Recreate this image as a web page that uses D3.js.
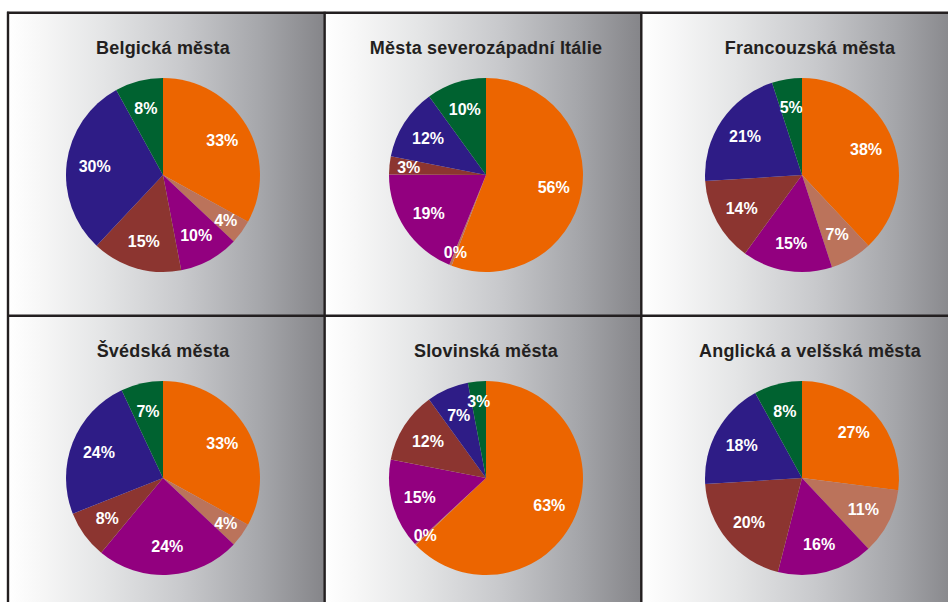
<!DOCTYPE html>
<html lang="cs">
<head>
<meta charset="utf-8">
<script src="https://cdn.jsdelivr.net/npm/d3@7"></script>
<style>
  html, body { margin: 0; padding: 0; background: #ffffff; }
  svg { display: block; }
</style>
</head>
<body>
<svg id="chart" width="948" height="602"></svg>
<script>
// Panel titles, in reading order (left to right, top to bottom)
const titles = [
  "Belgická města",
  "Města severozápadní Itálie",
  "Francouzská města",
  "Švédská města",
  "Slovinská města",
  "Anglická a velšská města"
];

// Slice keys (same order and colour in every pie, clockwise from 12 o'clock)
const segments = ["s1", "s2", "s3", "s4", "s5", "s6"];
const segmentColors = ["#ec6500", "#bb735b", "#92007f", "#8c3530", "#2e1c86", "#006230"];

// Shares in percent for each group of cities
const belgie    = [33, 4, 10, 15, 30, 8];
const italie    = [56, 0.4, 19, 3, 12, 10];
const francie   = [38, 7, 15, 14, 21, 5];
const svedsko   = [33, 4, 24, 8, 24, 7];
const slovinsko = [63, 0.2, 15, 12, 7, 3];
const anglie    = [27, 11, 16, 20, 18, 8];

const seriesList = [belgie, italie, francie, svedsko, slovinsko, anglie];

const svg = d3.select("#chart");
const W = 948, H = 602;

// Grid of framed panels
const gridLeft = 8, gridTop = 12.7;
const panelW = 316.65, panelH = 303.1;
const pieCx = [163, 486, 802];
const pieCy = [175, 478];
const titleX = [163, 486, 810];
const titleDy = 40.8;
const radius = 97;

const defs = svg.append("defs");
const grad = defs.append("linearGradient")
  .attr("id", "panelFill")
  .attr("x1", "0%").attr("y1", "0%")
  .attr("x2", "100%").attr("y2", "0%");
[
  [0.00, "#ffffff"],
  [0.10, "#f7f7f7"],
  [0.30, "#e4e5e6"],
  [0.55, "#c8c9cc"],
  [0.80, "#a5a6aa"],
  [1.00, "#858589"]
].forEach(([o, c]) => grad.append("stop").attr("offset", o).attr("stop-color", c));

const color = d3.scaleOrdinal().domain(segments).range(segmentColors);
const pie = d3.pie().sort(null).value(d => d.value);
const arc = d3.arc().innerRadius(0).outerRadius(radius);

const fmt = v => Math.round(v) + "%";
const labelFactor = v => v < 1 ? 0.86 : (v < 5 ? 0.8 : 0.71);

seriesList.forEach((values, i) => {
  const col = i % 3, row = Math.floor(i / 3);
  const px = gridLeft + col * panelW;
  const py = gridTop + row * panelH;

  const panel = svg.append("g");
  panel.append("rect")
    .attr("x", px).attr("y", py)
    .attr("width", panelW).attr("height", panelH)
    .attr("fill", "url(#panelFill)");

  panel.append("text")
    .attr("x", titleX[col])
    .attr("y", py + titleDy)
    .attr("text-anchor", "middle")
    .attr("font-family", "'Liberation Sans', Arial, Helvetica, sans-serif")
    .attr("font-weight", "bold")
    .attr("font-size", 18)
    .attr("letter-spacing", 0.2)
    .attr("fill", "#231f20")
    .text(titles[i]);

  const data = segments.map((k, j) => ({ key: k, value: values[j] }));
  const arcs = pie(data);

  const g = panel.append("g")
    .attr("transform", `translate(${pieCx[col]},${pieCy[row]})`);

  g.selectAll("path")
    .data(arcs)
    .join("path")
    .attr("d", arc)
    .attr("fill", d => color(d.data.key));

  g.selectAll("text")
    .data(arcs)
    .join("text")
    .attr("transform", d => {
      const r = radius * labelFactor(d.data.value);
      const c = d3.arc().innerRadius(r).outerRadius(r).centroid(d);
      return `translate(${c[0]},${c[1]})`;
    })
    .attr("text-anchor", "middle")
    .attr("dy", "0.36em")
    .attr("font-family", "'Liberation Sans', Arial, Helvetica, sans-serif")
    .attr("font-weight", "bold")
    .attr("font-size", 16)
    .attr("fill", "#ffffff")
    .text(d => fmt(d.data.value));
});

// Frame lines
const frame = svg.append("g")
  .attr("stroke", "#231f20")
  .attr("stroke-width", 2.4)
  .attr("fill", "none");

frame.append("line")
  .attr("x1", gridLeft - 1).attr("x2", W)
  .attr("y1", gridTop).attr("y2", gridTop);
frame.append("line")
  .attr("x1", gridLeft).attr("x2", W)
  .attr("y1", gridTop + panelH).attr("y2", gridTop + panelH);
[0, 1, 2].forEach(c => {
  frame.append("line")
    .attr("x1", gridLeft + c * panelW).attr("x2", gridLeft + c * panelW)
    .attr("y1", gridTop - 1).attr("y2", H);
});
</script>
</body>
</html>
